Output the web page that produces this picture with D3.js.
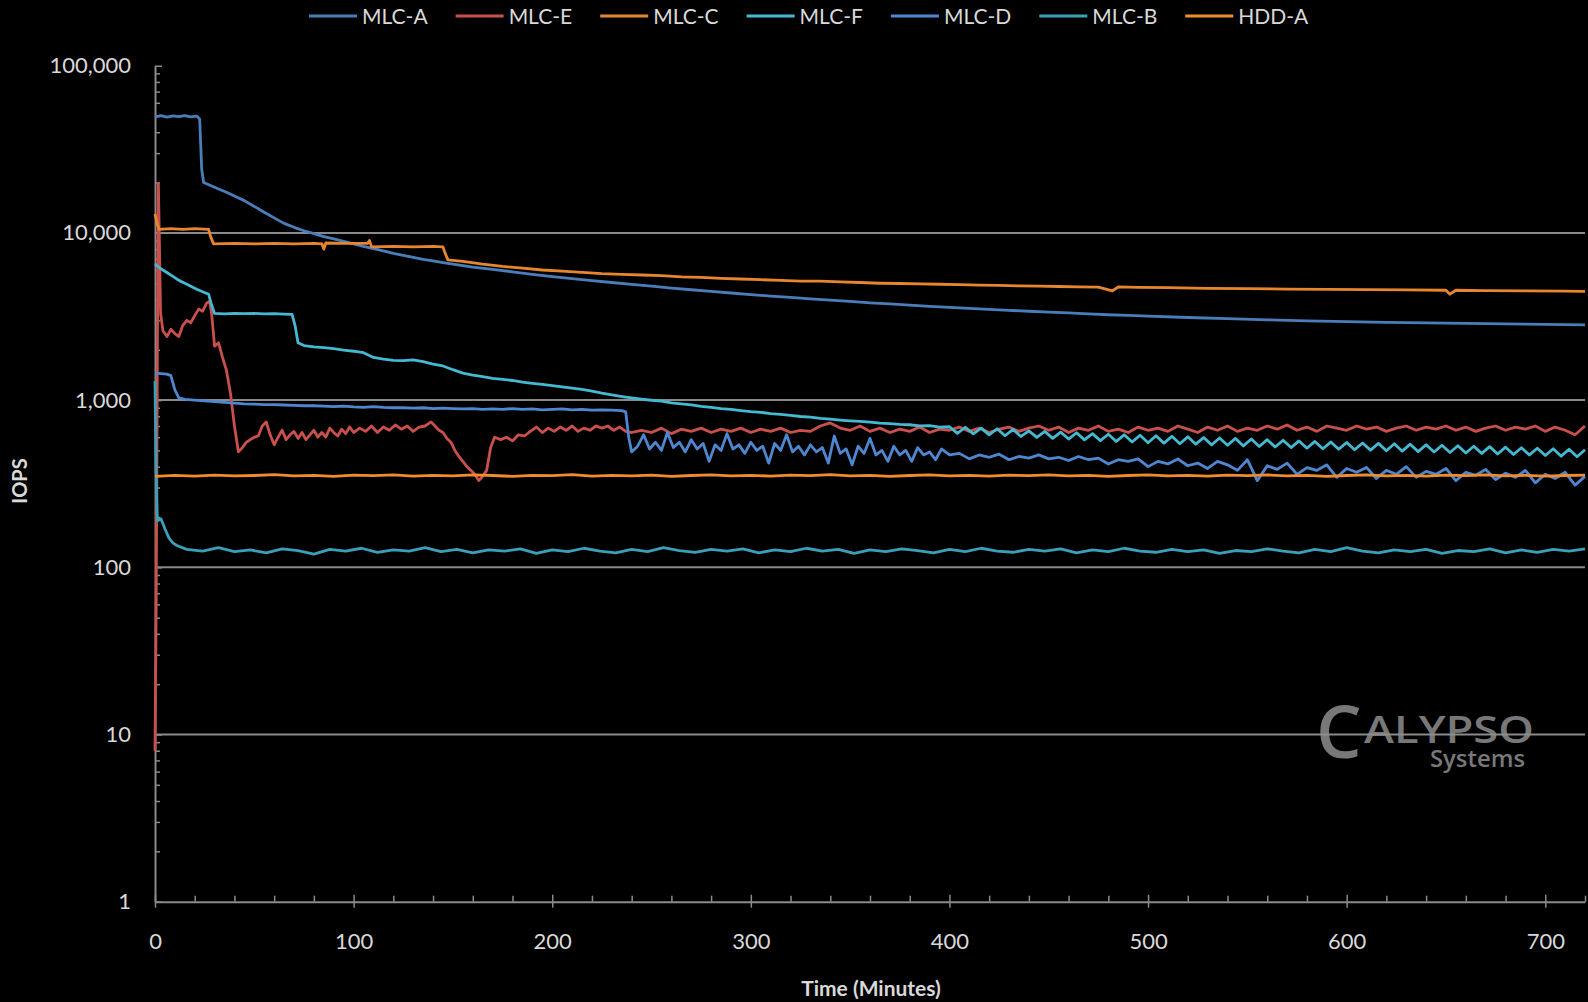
<!DOCTYPE html>
<html>
<head>
<meta charset="utf-8">
<script src="https://cdn.jsdelivr.net/npm/d3@7"></script>
<style>
body { margin: 0; background: #000; }
text { font-family: Lato, "Open Sans", sans-serif; }
</style>
</head>
<body>
<script>
// series names / colours (legend order)
var seriesNames = ['MLC-A', 'MLC-E', 'MLC-C', 'MLC-F', 'MLC-D', 'MLC-B', 'HDD-A'];
var seriesColors = ['#4a7ebb', '#c9504b', '#e8862e', '#45b8d2', '#4f86d0', '#3aa0b8', '#f08c2c'];

var xTicks = [0, 100, 200, 300, 400, 500, 600, 700];
var yTicks = [1, 10, 100, 1000, 10000, 100000];
var gridValues = [10, 100, 1000, 10000];

// [minutes, IOPS]
var mlcA = [[0,49500],[3,50200],[6,49300],[9,50100],[12,49600],[15,50300],[18,49400],[21,50000],[22.5,48000],[23.5,24000],[24.5,20000],
  [28,19200],[32,18300],[36,17500],[40,16600],[45,15600],[50,14400],[55,13300],[60,12300],[65,11400],[70,10800],[75,10300],[80,9900],
  [85,9500],[90,9200],[95,8900],[100,8600],[105,8300],[110,8050],[115,7800],[120,7550],[125,7350],[130,7150],[135,6950],[140,6800],
  [145,6650],[150,6500],[160,6250],[170,6050],[180,5850],[190,5650],[200,5480],[210,5330],[220,5180],[230,5050],[240,4920],[250,4800],
  [260,4680],[270,4570],[280,4470],[290,4370],[300,4280],[310,4190],[320,4110],[330,4030],[340,3960],[350,3890],[360,3820],[370,3760],
  [380,3700],[390,3640],[400,3590],[410,3540],[420,3490],[430,3440],[440,3400],[450,3360],[460,3320],[470,3280],[480,3240],[490,3210],
  [500,3180],[520,3120],[540,3070],[560,3020],[580,2980],[600,2950],[620,2920],[640,2900],[660,2880],[680,2860],[700,2840],[720,2820]];

var mlcE = [[0,8],[0.6,60],[1.2,2000],[1.7,19800],[2.2,9000],[2.8,3300],[4,2600],[6,2400],[8,2650],[10,2500],[12,2400],[14,2800],
  [16,3000],[18,2900],[20,3200],[22,3500],[24,3400],[26,3800],[27.5,3900],[28.5,3300],[30,2100],[32,2200],[34,1800],[36,1500],[38,1100],
  [40,700],[42,490],[44,520],[46,560],[48,580],[50,600],[52,610],[54,700],[56,740],[58,620],[60,540],[62,600],[64,660],[66,580],
  [68,620],[70,650],[72,590],[74,640],[76,580],[78,620],[80,660],[82,600],[84,640],[86,600],[88,680],[90,640],[92,610],[94,670],
  [96,630],[98,690],[100,640],[103,680],[106,650],[109,700],[112,640],[115,690],[118,660],[121,710],[124,670],[127,700],[130,650],
  [133,690],[136,700],[139,740],[141,700],[143,660],[145,640],[147,590],[149,560],[151,500],[153,460],[155,430],[157,400],[159,380],
  [161,360],[163,330],[165,350],[167,380],[169,520],[171,600],[174,580],[177,600],[180,570],[183,620],[186,610],[189,650],[192,690],
  [195,640],[198,680],[201,650],[204,690],[207,660],[210,700],[213,650],[216,680],[219,660],[222,700],[225,680],[228,700],[231,660],
  [234,690],[237,650],[240,640],[245,660],[250,640],[255,680],[260,630],[265,670],[270,650],[275,680],[280,640],[285,670],[290,650],
  [295,680],[300,640],[305,670],[310,650],[315,680],[320,640],[325,660],[330,650],[335,700],[340,730],[345,680],[350,660],[355,700],
  [360,650],[365,680],[370,640],[375,670],[380,650],[385,690],[390,640],[395,670],[400,660],[405,690],[410,650],[415,680],[420,640],
  [425,670],[430,690],[435,650],[440,680],[445,700],[450,660],[455,690],[460,640],[465,680],[470,660],[475,700],[480,650],[485,670],
  [490,640],[495,690],[500,660],[505,680],[510,650],[515,700],[520,670],[525,640],[530,690],[535,660],[540,700],[545,650],[550,680],
  [555,660],[560,700],[565,670],[570,710],[575,660],[580,690],[585,650],[590,700],[595,680],[600,660],[605,700],[610,670],[615,690],
  [620,650],[625,680],[630,700],[635,660],[640,690],[645,670],[650,700],[655,660],[660,690],[665,650],[670,680],[675,700],[680,660],
  [685,690],[690,670],[695,700],[700,650],[705,690],[710,660],[715,620],[720,700]];

var mlcC = [[0,13000],[1,11500],[2,10500],[8,10600],[14,10500],[20,10600],[27,10500],[28,9500],[29.5,8600],[40,8650],[50,8600],
  [60,8650],[70,8600],[80,8650],[84,8600],[85,8000],[86,8700],[95,8650],[107,8650],[108,9000],[109,8250],[120,8300],[130,8250],
  [140,8300],[145,8250],[146,7600],[147.5,6900],[155,6750],[165,6500],[175,6300],[185,6150],[195,6000],[205,5900],[215,5800],
  [225,5700],[235,5650],[245,5600],[255,5550],[265,5450],[275,5420],[285,5350],[295,5300],[305,5250],[315,5200],[325,5150],
  [335,5150],[345,5100],[355,5050],[365,5000],[375,4980],[385,4950],[395,4930],[405,4900],[415,4870],[425,4850],[435,4820],
  [445,4800],[455,4780],[465,4760],[475,4740],[482,4500],[485,4750],[495,4720],[510,4700],[530,4660],[550,4640],[570,4610],
  [590,4600],[610,4580],[630,4560],[650,4540],[652,4300],[655,4540],[670,4520],[690,4500],[710,4480],[720,4470]];

var mlcF = [[0,6500],[3,6100],[6,5800],[9,5500],[12,5200],[15,5000],[18,4800],[21,4600],[24,4450],[27,4300],[28.5,3700],[30,3300],
  [35,3280],[40,3300],[45,3290],[50,3300],[55,3280],[60,3290],[65,3270],[69,3260],[70.5,2800],[72,2200],[75,2120],[80,2080],
  [85,2060],[90,2030],[95,1990],[100,1960],[105,1920],[110,1800],[115,1760],[120,1730],[125,1720],[130,1740],[135,1700],[140,1640],
  [145,1600],[150,1520],[155,1450],[160,1410],[165,1380],[170,1350],[175,1330],[180,1310],[185,1280],[190,1260],[195,1240],
  [200,1220],[205,1200],[210,1180],[215,1160],[220,1130],[225,1100],[230,1075],[236,1047],[240,1030],[245,1012],[250,998],
  [255,985],[260,962],[265,950],[270,935],[275,918],[280,905],[285,890],[290,880],[295,866],[300,853],[305,845],[310,830],
  [315,822],[320,810],[325,798],[330,790],[335,778],[340,770],[345,760],[350,752],[355,745],[360,738],[365,728],[370,724],
  [375,715],[380,712],[385,702],[390,704],[395,690],[400,693],[404,632],[408,688],[412,628],[416,680],[420,620],[424,674],
  [428,612],[432,668],[436,606],[440,655],[444,598],[448,650],[452,590],[456,643],[460,585],[464,638],[468,578],[472,630],
  [476,572],[480,625],[484,566],[488,620],[492,562],[496,616],[500,556],[504,612],[508,553],[512,607],[516,548],[520,603],
  [524,545],[528,597],[532,540],[536,593],[540,537],[544,590],[548,532],[552,585],[556,528],[560,580],[564,524],[568,575],
  [572,520],[576,570],[580,515],[584,566],[588,512],[592,561],[596,508],[600,558],[604,505],[608,554],[612,502],[616,551],
  [620,498],[624,548],[628,495],[632,545],[636,492],[640,541],[644,489],[648,537],[652,486],[656,533],[660,483],[664,530],
  [668,480],[672,527],[676,476],[680,523],[684,473],[688,519],[692,470],[696,515],[700,466],[704,512],[708,462],[712,508],
  [716,458],[720,505]];

var mlcD = [[0,1450],[3,1440],[6,1430],[8,1400],[10,1150],[12,1030],[15,1010],[20,1000],[25,990],[30,980],[35,970],[40,960],
  [45,950],[50,945],[55,940],[60,940],[65,935],[70,930],[75,925],[80,925],[85,920],[90,915],[95,920],[100,910],[105,905],[110,915],
  [115,905],[120,900],[125,900],[130,895],[135,900],[140,890],[145,895],[150,890],[155,885],[160,890],[165,880],[170,885],[175,880],
  [180,890],[185,880],[190,885],[195,875],[200,880],[205,885],[210,875],[215,880],[220,870],[225,875],[230,870],[235,865],[237,850],
  [238.5,600],[240,490],[243,530],[246,620],[249,510],[252,560],[255,500],[258,640],[261,520],[264,560],[267,490],[270,580],
  [273,510],[276,550],[279,430],[282,540],[285,500],[288,630],[291,510],[294,540],[297,480],[300,560],[303,500],[306,530],
  [309,420],[312,550],[315,500],[318,620],[321,490],[324,530],[327,470],[330,540],[333,490],[336,520],[339,420],[342,610],
  [345,480],[348,510],[351,410],[354,530],[357,480],[360,590],[363,470],[366,500],[369,430],[372,530],[375,470],[378,500],
  [381,430],[384,520],[387,470],[390,490],[393,440],[396,510],[400,470],[405,480],[410,445],[415,470],[420,455],[425,475],
  [430,440],[435,460],[440,450],[445,470],[450,445],[455,455],[460,435],[465,460],[470,440],[475,450],[480,415],[485,440],
  [490,430],[495,445],[500,400],[505,430],[510,415],[515,445],[520,405],[525,420],[530,390],[535,430],[540,410],[545,380],
  [550,440],[555,330],[560,405],[565,385],[570,420],[575,360],[580,395],[585,380],[590,410],[595,345],[600,390],[605,370],
  [610,395],[615,340],[620,380],[625,360],[630,400],[635,345],[640,375],[645,360],[650,390],[655,330],[660,370],[665,355],
  [670,385],[675,335],[680,365],[685,345],[690,380],[695,320],[700,360],[705,340],[710,370],[715,310],[720,350]];

var mlcB = [[0,1300],[0.5,400],[1.2,190],[3,195],[5,170],[7,150],[9,140],[11,135],[16,128],[24,125],[32,131],[40,124],[48,127],
  [56,122],[64,129],[72,126],[80,120],[88,128],[96,125],[104,130],[112,123],[120,127],[128,125],[136,131],[144,124],[152,128],
  [160,122],[168,127],[176,125],[184,129],[192,121],[200,127],[208,124],[216,130],[224,125],[232,122],[240,128],[248,124],
  [256,131],[264,126],[272,123],[280,128],[288,125],[296,129],[304,122],[312,127],[320,124],[328,130],[336,125],[344,128],
  [352,121],[360,127],[368,124],[376,129],[384,126],[392,122],[400,128],[408,124],[416,130],[424,125],[432,123],[440,128],
  [448,125],[456,129],[464,122],[472,127],[480,124],[488,130],[496,125],[504,123],[512,128],[520,124],[528,127],[536,121],
  [544,126],[552,124],[560,129],[568,125],[576,122],[584,128],[592,124],[600,131],[608,125],[616,122],[624,127],[632,124],
  [640,128],[648,121],[656,126],[664,124],[672,129],[680,122],[688,127],[696,123],[704,128],[712,125],[720,129]];

var hddA = [[0,350],[10,355],[20,351],[30,356],[40,352],[50,354],[60,358],[70,352],[80,355],[90,350],[100,356],[110,353],[120,357],
  [130,351],[140,355],[150,352],[160,357],[170,354],[180,350],[190,355],[200,353],[210,358],[220,351],[230,355],[240,352],[250,356],
  [260,350],[270,354],[280,357],[290,352],[300,355],[310,351],[320,356],[330,353],[340,358],[350,352],[360,355],[370,350],[380,354],
  [390,357],[400,352],[410,355],[420,351],[430,356],[440,353],[450,357],[460,352],[470,355],[480,350],[490,354],[500,357],[510,352],
  [520,355],[530,351],[540,356],[550,353],[560,357],[570,352],[580,355],[590,350],[600,354],[610,357],[620,352],[630,355],[640,351],
  [650,356],[660,353],[670,357],[680,352],[690,355],[700,351],[710,354],[720,356]];

var seriesData = [mlcA, mlcE, mlcC, mlcF, mlcD, mlcB, hddA];

var W = 1588, H = 1002;
var svg = d3.select('body').append('svg')
    .attr('width', W)
    .attr('height', H)
    .style('background', '#000');

var x = d3.scaleLinear().domain([0, 720]).range([155, 1585]);
var y = d3.scaleLog().domain([1, 100000]).range([901.7, 65.7]);

var axisColor = '#8a8a8a';
var labelColor = '#d9d9d9';

// horizontal gridlines
svg.selectAll('.grid').data(gridValues).enter().append('line')
    .attr('class', 'grid')
    .attr('x1', x(0)).attr('x2', x(720))
    .attr('y1', function(d) { return y(d); })
    .attr('y2', function(d) { return y(d); })
    .attr('stroke', axisColor)
    .attr('stroke-width', 2);

// watermark
var wm = svg.append('g').attr('fill', '#8e8e8e').attr('opacity', 0.85);
wm.append('text').attr('x', 1316).attr('y', 758).attr('font-size', 72).attr('font-weight', 600)
    .style('font-family', '"Open Sans", sans-serif').text('C');
wm.append('text').attr('x', 1364).attr('y', 743).attr('font-size', 37).attr('font-weight', 600)
    .attr('textLength', 170).attr('lengthAdjust', 'spacingAndGlyphs')
    .style('font-family', '"Open Sans", sans-serif').text('ALYPSO');
wm.append('text').attr('x', 1430).attr('y', 767).attr('font-size', 24).attr('font-weight', 600)
    .attr('textLength', 95).attr('lengthAdjust', 'spacingAndGlyphs')
    .style('font-family', '"Open Sans", sans-serif').text('Systems');

// minor ticks
var yMinor = [];
for (var d = 0; d < 5; d++) {
    for (var k = 2; k <= 9; k++) yMinor.push(k * Math.pow(10, d));
}
var xMinor = d3.range(0, 721, 20).filter(function(v) { return v % 100 != 0; });

svg.append('g').attr('transform', 'translate(' + x(0) + ',0)')
    .call(d3.axisLeft(y).tickValues(yMinor).tickSize(-5).tickFormat(''))
    .call(function(g) { g.select('.domain').remove(); });
svg.append('g').attr('transform', 'translate(0,' + y(1) + ')')
    .call(d3.axisBottom(x).tickValues(xMinor).tickSize(-6).tickFormat(''))
    .call(function(g) { g.select('.domain').remove(); });

// main axes
var yAxis = svg.append('g').attr('transform', 'translate(' + x(0) + ',0)')
    .call(d3.axisLeft(y).tickValues(yTicks).tickFormat(d3.format(',')).tickSizeInner(-7).tickSizeOuter(0).tickPadding(24));
var xAxis = svg.append('g').attr('transform', 'translate(0,' + y(1) + ')')
    .call(d3.axisBottom(x).tickValues(xTicks).tickFormat(d3.format('d')).tickSizeInner(6).tickSizeOuter(0).tickPadding(26));

svg.selectAll('.tick line').attr('stroke', axisColor).attr('stroke-width', 1.5);
svg.selectAll('.domain').attr('stroke', axisColor).attr('stroke-width', 2);
svg.selectAll('.tick text').attr('fill', labelColor).attr('font-size', 22)
    .style('font-family', 'Lato, sans-serif');
xAxis.selectAll('.tick line').attr('y1', -7).attr('y2', 6);

// series lines
var line = d3.line()
    .x(function(d) { return x(d[0]); })
    .y(function(d) { return y(d[1]); });

seriesData.forEach(function(s, i) {
    svg.append('path')
        .datum(s)
        .attr('d', line)
        .attr('fill', 'none')
        .attr('stroke', seriesColors[i])
        .attr('stroke-width', 2.8)
        .attr('stroke-linejoin', 'round');
});

// axis titles
svg.append('text')
    .attr('x', 871).attr('y', 996)
    .attr('text-anchor', 'middle')
    .attr('fill', labelColor)
    .attr('font-size', 21)
    .attr('font-weight', 'bold')
    .text('Time (Minutes)');
svg.append('text')
    .attr('transform', 'translate(27,481) rotate(-90)')
    .attr('text-anchor', 'middle')
    .attr('fill', labelColor)
    .attr('font-size', 20)
    .attr('font-weight', 'bold')
    .text('IOPS');

// legend
var legend = svg.append('g');
var lx = 309;
seriesNames.forEach(function(name, i) {
    legend.append('line')
        .attr('x1', lx).attr('x2', lx + 48)
        .attr('y1', 16).attr('y2', 16)
        .attr('stroke', seriesColors[i])
        .attr('stroke-width', 3);
    var t = legend.append('text')
        .attr('x', lx + 53).attr('y', 16)
        .attr('dy', '0.36em')
        .attr('fill', labelColor)
        .attr('font-size', 21)
        .text(name);
    lx = lx + 53 + t.node().getComputedTextLength() + 28;
});
</script>
</body>
</html>
